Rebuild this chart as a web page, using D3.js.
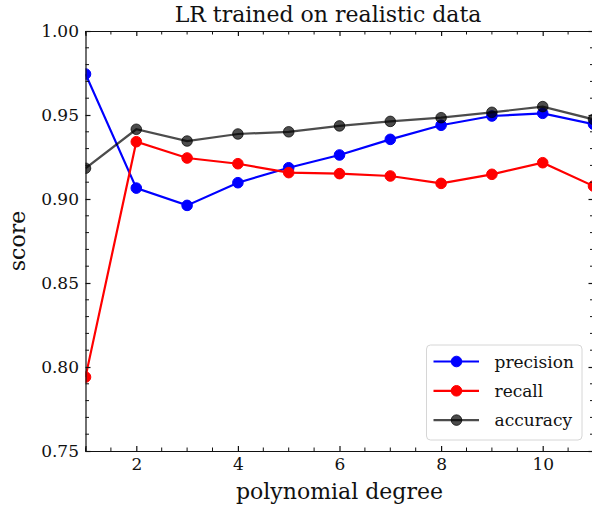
<!DOCTYPE html>
<html>
<head>
<meta charset="utf-8">
<script src="https://cdn.jsdelivr.net/npm/d3@7"></script>
<style>
  body { margin: 0; background: white; }
  svg text { font-family: "DejaVu Serif", serif !important; fill: #111; }
</style>
</head>
<body>
<svg id="chart"></svg>
<script>
// Data
const degrees = [1, 2, 3, 4, 5, 6, 7, 8, 9, 10, 11];
const precision = [0.9744, 0.9065, 0.8962, 0.9097, 0.9186, 0.9262, 0.9355, 0.9439, 0.9494, 0.951, 0.9445];
const recall = [0.794, 0.9341, 0.9244, 0.921, 0.9157, 0.9151, 0.9137, 0.9093, 0.9147, 0.9216, 0.9077];
const accuracy = [0.9183, 0.9415, 0.9345, 0.9387, 0.940, 0.9435, 0.9462, 0.9484, 0.9516, 0.955, 0.9474];
const seriesNames = ["precision", "recall", "accuracy"];
const xMajorTicks = [2, 4, 6, 8, 10];
const yMajorTicks = [0.75, 0.80, 0.85, 0.90, 0.95, 1.00];

const width = 592;
const height = 512;
const margin = { left: 85.5, top: 31, right: -1.5, bottom: 61 };

const svg = d3.select("#chart").attr("width", width).attr("height", height);

const x = d3.scaleLinear().domain([1, 11]).range([margin.left, width - margin.right]);
const y = d3.scaleLinear().domain([0.75, 1.0]).range([height - margin.bottom, margin.top]);

const series = [
  { name: seriesNames[0], values: precision, color: "#0000ff", opacity: 1 },
  { name: seriesNames[1], values: recall, color: "#ff0000", opacity: 1 },
  { name: seriesNames[2], values: accuracy, color: "#000000", opacity: 0.7 }
];

// clip for data
svg.append("defs").append("clipPath").attr("id", "plot-clip")
  .append("rect")
  .attr("x", x(1)).attr("y", y(1))
  .attr("width", x(11) - x(1)).attr("height", y(0.75) - y(1));

const plot = svg.append("g").attr("clip-path", "url(#plot-clip)");

const line = d3.line()
  .x((d, i) => x(degrees[i]))
  .y(d => y(d));

series.forEach(s => {
  plot.append("path")
    .datum(s.values)
    .attr("d", line)
    .attr("fill", "none")
    .attr("stroke", s.color)
    .attr("stroke-opacity", s.opacity)
    .attr("stroke-width", 2.2);
  // markers with alpha drawn one by one
  plot.selectAll(null)
    .data(s.values)
    .enter()
    .append("circle")
    .attr("cx", (d, i) => x(degrees[i]))
    .attr("cy", d => y(d))
    .attr("r", 5.3)
    .attr("fill", s.color)
    .attr("fill-opacity", s.opacity)
    .attr("stroke", s.color)
    .attr("stroke-opacity", s.opacity);
});

// axes with inward ticks on all four sides
const xMinor = d3.range(1, 11.01, 0.5).filter(v => !xMajorTicks.includes(v));
const yMinor = d3.range(0.75, 1.0001, 0.01).map(v => +v.toFixed(2)).filter(v => !yMajorTicks.some(t => Math.abs(t - v) < 1e-6));

function styleAxis(g) {
  g.attr("font-family", null);
  g.select(".domain").attr("stroke", "#111").attr("stroke-width", 1.2);
  g.selectAll(".tick line").attr("stroke", "#111").attr("stroke-width", 1.2);
  g.selectAll(".tick text").style("font-size", "17px").attr("fill", "#111");
}

function minorTicks(g, values, horizontal, dir) {
  g.selectAll(".minor").data(values).enter().append("line")
    .attr("class", "minor")
    .attr("x1", d => horizontal ? x(d) : 0)
    .attr("x2", d => horizontal ? x(d) : dir * 3.5)
    .attr("y1", d => horizontal ? 0 : y(d))
    .attr("y2", d => horizontal ? dir * 3.5 : y(d))
    .attr("stroke", "#111").attr("stroke-width", 1);
}

const axisB = svg.append("g").attr("transform", `translate(0,${y(0.75)})`);
axisB.call(d3.axisBottom(x).tickValues(xMajorTicks).tickSize(-5).tickPadding(6.5).tickFormat(d3.format("d")));
minorTicks(axisB, xMinor, true, -1);
styleAxis(axisB);

const axisT = svg.append("g").attr("transform", `translate(0,${y(1)})`);
axisT.call(d3.axisTop(x).tickValues(xMajorTicks).tickSize(-5).tickFormat(""));
minorTicks(axisT, xMinor, true, 1);
styleAxis(axisT);

const axisL = svg.append("g").attr("transform", `translate(${x(1)},0)`);
axisL.call(d3.axisLeft(y).tickValues(yMajorTicks).tickSize(-5).tickPadding(6.5).tickFormat(d3.format(".2f")));
minorTicks(axisL, yMinor, false, 1);
styleAxis(axisL);

const axisR = svg.append("g").attr("transform", `translate(${x(11)},0)`);
axisR.call(d3.axisRight(y).tickValues(yMajorTicks).tickSize(-5).tickFormat(""));
minorTicks(axisR, yMinor, false, -1);
styleAxis(axisR);

// labels
svg.append("text")
  .attr("x", 328)
  .attr("y", 22)
  .attr("text-anchor", "middle")
  .style("font-size", "22px")
  .text("LR trained on realistic data");

svg.append("text")
  .attr("x", (x(1) + x(11)) / 2)
  .attr("y", 499)
  .attr("text-anchor", "middle")
  .style("font-size", "22px")
  .text("polynomial degree");

svg.append("text")
  .attr("transform", `translate(24.5,${(y(0.75) + y(1)) / 2}) rotate(-90)`)
  .attr("text-anchor", "middle")
  .style("font-size", "22px")
  .text("score");

// legend
const legend = svg.append("g").attr("transform", "translate(426.5,345)");
legend.append("rect")
  .attr("width", 155.5).attr("height", 95)
  .attr("rx", 4)
  .attr("fill", "white").attr("fill-opacity", 0.8)
  .attr("stroke", "#d6d6d6").attr("stroke-width", 1);

series.forEach((s, i) => {
  const row = legend.append("g").attr("transform", `translate(0,${16.5 + i * 29.3})`);
  row.append("line")
    .attr("x1", 7).attr("x2", 52.5).attr("y1", 0).attr("y2", 0)
    .attr("stroke", s.color).attr("stroke-opacity", s.opacity).attr("stroke-width", 2.2);
  row.append("circle")
    .attr("cx", 30).attr("cy", 0).attr("r", 5.3)
    .attr("fill", s.color).attr("fill-opacity", s.opacity)
    .attr("stroke", s.color).attr("stroke-opacity", s.opacity);
  row.append("text")
    .attr("x", 68).attr("y", 6)
    .style("font-size", "17px")
    .text(s.name);
});
</script>
</body>
</html>
